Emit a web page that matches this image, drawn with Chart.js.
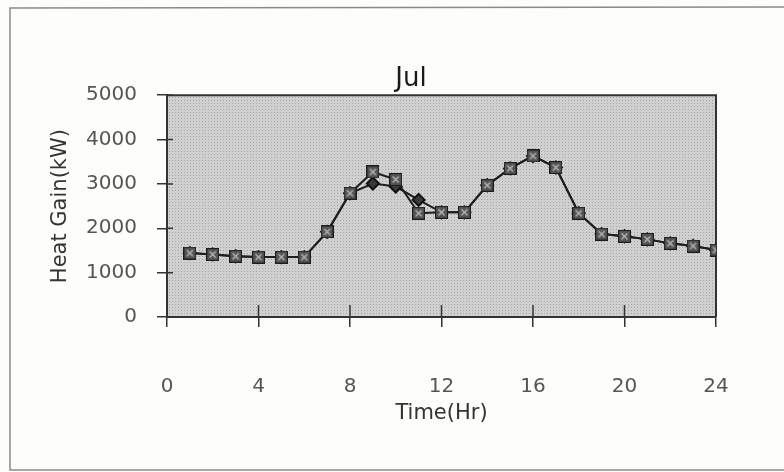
<!DOCTYPE html>
<html>
<head>
<meta charset="utf-8">
<script src="https://cdn.jsdelivr.net/npm/chart.js@4.4.1/dist/chart.umd.min.js"></script>
<style>
  html, body { margin: 0; padding: 0; background: #fdfdfb; }
  #wrap { width: 784px; height: 472px; }
</style>
</head>
<body>
<div id="wrap"><canvas id="heatChart" width="784" height="472"></canvas></div>
<script>
// hours of the day and heat gain readings (kW)
const hours = [1, 2, 3, 4, 5, 6, 7, 8, 9, 10, 11, 12, 13, 14, 15, 16, 17, 18, 19, 20, 21, 22, 23, 24];
const gainSquare = [1440, 1410, 1370, 1350, 1350, 1350, 1920, 2790, 3270, 3100, 2340, 2360, 2360, 2970, 3350, 3630, 3370, 2340, 1870, 1820, 1750, 1660, 1600, 1510];
const gainDiamond = [1440, 1410, 1370, 1350, 1350, 1350, 1920, 2790, 3010, 2940, 2640, 2360, 2360, 2970, 3350, 3630, 3370, 2340, 1870, 1820, 1750, 1660, 1600, 1510];
const xTicks = [0, 4, 8, 12, 16, 20, 24];
const yTicks = [0, 1000, 2000, 3000, 4000, 5000];

const FONT = "'DejaVu Sans', 'Liberation Sans', Arial, sans-serif";

// square marker with an x through it
function squareMark() {
    const c = document.createElement('canvas');
    c.width = 13; c.height = 13;
    const g = c.getContext('2d');
    g.fillStyle = '#555';
    g.fillRect(0.5, 0.5, 12, 12);
    g.strokeStyle = '#1c1c1c';
    g.lineWidth = 1.2;
    g.strokeRect(0.5, 0.5, 12, 12);
    g.strokeStyle = '#b8b8b8';
    g.lineWidth = 1.3;
    g.beginPath();
    g.moveTo(3.5, 3.5); g.lineTo(9.5, 9.5);
    g.moveTo(9.5, 3.5); g.lineTo(3.5, 9.5);
    g.stroke();
    return c;
}

// dotted grey fill like the printed plot area
function dotPattern(ctx) {
    const c = document.createElement('canvas');
    c.width = 3; c.height = 3;
    const g = c.getContext('2d');
    g.fillStyle = '#d0d0d0';
    g.fillRect(0, 0, 3, 3);
    g.fillStyle = '#a4a4a4';
    g.fillRect(1, 1, 1, 1);
    return ctx.createPattern(c, 'repeat');
}

const paperPlugin = {
    id: 'paper',
    beforeDraw(chart) {
        const { ctx, chartArea: a } = chart;
        ctx.save();
        ctx.fillStyle = '#fdfdfb';
        ctx.fillRect(0, 0, chart.width, chart.height);
        // outer frame
        ctx.strokeStyle = '#8a8a8a';
        ctx.lineWidth = 1.5;
        ctx.beginPath();
        ctx.moveTo(784, 7);
        ctx.lineTo(10, 8);
        ctx.lineTo(10, 470);
        ctx.lineTo(784, 470);
        ctx.stroke();
        // plot area
        ctx.fillStyle = dotPattern(ctx);
        ctx.fillRect(a.left, a.top, a.right - a.left, a.bottom - a.top);
        ctx.restore();
    },
    beforeDatasetsDraw(chart) {
        const { ctx, chartArea: a, scales } = chart;
        ctx.save();
        ctx.strokeStyle = '#333';
        ctx.lineWidth = 2;
        ctx.beginPath();
        ctx.moveTo(a.left, a.top);
        ctx.lineTo(a.right, a.top);
        ctx.lineTo(a.right, a.bottom);
        ctx.stroke();
        // tick marks poke a little into the plot
        ctx.lineWidth = 1.5;
        ctx.beginPath();
        yTicks.forEach(v => {
            const y = scales.y.getPixelForValue(v);
            ctx.moveTo(a.left, y); ctx.lineTo(a.left + 6, y);
        });
        xTicks.forEach(v => {
            const x = scales.x.getPixelForValue(v);
            ctx.moveTo(x, a.bottom); ctx.lineTo(x, a.bottom - 12);
        });
        ctx.stroke();
        ctx.restore();
    }
};

const squarePoint = squareMark();

new Chart(document.getElementById('heatChart'), {
    type: 'line',
    data: {
        datasets: [
            {
                label: 'Heat Gain A',
                data: hours.map((h, i) => ({ x: h, y: gainSquare[i] })),
                borderColor: '#1e1e1e',
                borderWidth: 2,
                pointStyle: squarePoint,
                pointRadius: 6,
                tension: 0
            },
            {
                label: 'Heat Gain B',
                data: hours.map((h, i) => ({ x: h, y: gainDiamond[i] })),
                borderColor: '#1e1e1e',
                borderWidth: 2,
                pointStyle: 'rectRot',
                pointRadius: 6,
                pointBackgroundColor: '#3a3a3a',
                pointBorderColor: '#111',
                tension: 0
            }
        ]
    },
    options: {
        responsive: false,
        animation: false,
        layout: { padding: { top: 64, left: 38, right: 0, bottom: 0 } },
        plugins: {
            legend: { display: false },
            tooltip: { enabled: false },
            title: {
                display: true,
                text: 'Jul',
                color: '#1a1a1a',
                font: { family: FONT, size: 26, weight: 'normal' },
                padding: { top: 0, bottom: 0 }
            }
        },
        scales: {
            x: {
                type: 'linear',
                min: 0,
                max: 24,
                afterBuildTicks: s => { s.ticks = xTicks.map(v => ({ value: v })); },
                afterFit: s => { s.height = 155; },
                grid: { display: true, drawOnChartArea: false, drawTicks: true, tickLength: 10, color: '#333', lineWidth: 1.5 },
                border: { display: true, color: '#333', width: 2 },
                ticks: { color: '#555', font: { family: FONT, size: 20 }, padding: 48, maxRotation: 0, callback: v => String(v) },
                title: { display: true, text: 'Time(Hr)', color: '#333', font: { family: FONT, size: 21 }, padding: { top: 0, bottom: 46 } }
            },
            y: {
                min: 0,
                max: 5000,
                afterBuildTicks: s => { s.ticks = yTicks.map(v => ({ value: v })); },
                afterFit: s => { s.width = 129; },
                grid: { display: true, drawOnChartArea: false, drawTicks: true, tickLength: 10, color: '#333', lineWidth: 1.5 },
                border: { display: true, color: '#333', width: 2 },
                ticks: { color: '#555', font: { family: FONT, size: 20 }, padding: 20, callback: v => String(v) },
                title: { display: true, text: 'Heat Gain(kW)', color: '#333', font: { family: FONT, size: 21 }, padding: { top: 10, bottom: 0 } }
            },
            y2: {
                position: 'right',
                display: true,
                min: 0,
                max: 5000,
                afterFit: s => { s.width = 68; },
                grid: { display: false },
                border: { display: false },
                ticks: { display: false }
            }
        }
    },
    plugins: [paperPlugin]
});
</script>
</body>
</html>
